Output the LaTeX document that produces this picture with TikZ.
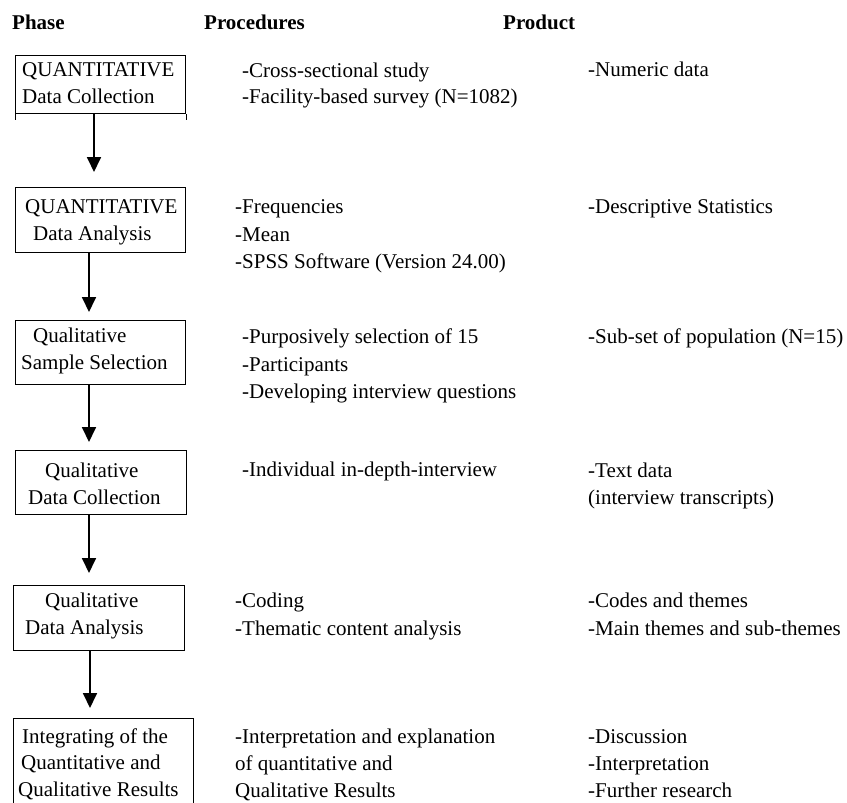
\documentclass[tikz,border=0pt]{standalone}
\usepackage{fontspec}
\setmainfont{Liberation Serif}
\usetikzlibrary{arrows.meta}
\begin{document}
\begin{tikzpicture}[x=1pt,y=-1pt,
  txt/.style={anchor=base west,inner sep=0pt,font=\fontsize{21}{25}\selectfont},
  head/.style={txt,font=\fontsize{21}{25}\selectfont\bfseries},
  phasebox/.style={draw,line width=1pt,inner sep=0pt},
  flow/.style={line width=1.8pt,-{Triangle[length=15pt,width=14pt]}}]
\useasboundingbox (0,0) rectangle (847,803);

% column headings
\node[head] (hphase) at (12,29) {Phase};
\node[head] (hproc) at (204,29) {Procedures};
\node[head] (hprod) at (503,29) {Product};

% phase boxes
\node[phasebox,minimum width=170pt,minimum height=58pt,anchor=north west] (b1) at (15,55) {};
\draw[line width=1pt] (b1.south west) -- ++(0,6) (b1.south east) -- ++(0,6);
\node[phasebox,minimum width=170pt,minimum height=65pt,anchor=north west] (b2) at (15,187) {};
\node[phasebox,minimum width=170pt,minimum height=64pt,anchor=north west] (b3) at (15,320) {};
\node[phasebox,minimum width=171pt,minimum height=64pt,anchor=north west] (b4) at (15,450) {};
\node[phasebox,minimum width=171pt,minimum height=65pt,anchor=north west] (b5) at (13,585) {};
\coordinate (b6nw) at (13,718);
\coordinate (b6ne) at (193,718);
\draw[line width=1pt] (13,806) -- (b6nw) -- (b6ne) -- (193,806);

% phase labels
\node[txt] (p1a) at (22,76) {QUANTITATIVE};
\node[txt] (p1b) at (22,103) {Data Collection};
\node[txt] (p2a) at (25,213) {QUANTITATIVE};
\node[txt] (p2b) at (33,240) {Data Analysis};
\node[txt] (p3a) at (33,342) {Qualitative};
\node[txt] (p3b) at (21,369) {Sample Selection};
\node[txt] (p4a) at (45,477) {Qualitative};
\node[txt] (p4b) at (28,504) {Data Collection};
\node[txt] (p5a) at (45,607) {Qualitative};
\node[txt] (p5b) at (25,634) {Data Analysis};
\node[txt] (p6a) at (22,743) {Integrating of the};
\node[txt] (p6b) at (21,769) {Quantitative and};
\node[txt] (p6c) at (18,796) {Qualitative Results};

% arrows between phases
\coordinate (a1s) at (94,113); \coordinate (a1e) at (94,172);
\coordinate (a2s) at (89,252); \coordinate (a2e) at (89,312);
\coordinate (a3s) at (89,384); \coordinate (a3e) at (89,442);
\coordinate (a4s) at (89,514); \coordinate (a4e) at (89,573);
\coordinate (a5s) at (90,650); \coordinate (a5e) at (90,708);
\draw[flow] (a1s) -- (a1e);
\draw[flow] (a2s) -- (a2e);
\draw[flow] (a3s) -- (a3e);
\draw[flow] (a4s) -- (a4e);
\draw[flow] (a5s) -- (a5e);

% procedures
\node[txt] (r1a) at (242,77) {-Cross-sectional study};
\node[txt] (r1b) at (242,103) {-Facility-based survey (N=1082)};
\node[txt] (r2a) at (235,213) {-Frequencies};
\node[txt] (r2b) at (235,241) {-Mean};
\node[txt] (r2c) at (235,268) {-SPSS Software (Version 24.00)};
\node[txt] (r3a) at (242,343) {-Purposively selection of 15};
\node[txt] (r3b) at (242,371) {-Participants};
\node[txt] (r3c) at (242,398) {-Developing interview questions};
\node[txt] (r4a) at (242,476) {-Individual in-depth-interview};
\node[txt] (r5a) at (235,607) {-Coding};
\node[txt] (r5b) at (235,635) {-Thematic content analysis};
\node[txt] (r6a) at (235,743) {-Interpretation and explanation};
\node[txt] (r6b) at (235,770) {of quantitative and};
\node[txt] (r6c) at (235,797) {Qualitative Results};

% products
\node[txt] (d1a) at (588,76) {-Numeric data};
\node[txt] (d2a) at (588,213) {-Descriptive Statistics};
\node[txt] (d3a) at (588,343) {-Sub-set of population (N=15)};
\node[txt] (d4a) at (588,477) {-Text data};
\node[txt] (d4b) at (588,504) {(interview transcripts)};
\node[txt] (d5a) at (588,607) {-Codes and themes};
\node[txt] (d5b) at (588,635) {-Main themes and sub-themes};
\node[txt] (d6a) at (588,743) {-Discussion};
\node[txt] (d6b) at (588,770) {-Interpretation};
\node[txt] (d6c) at (588,797) {-Further research};
\end{tikzpicture}
\end{document}
